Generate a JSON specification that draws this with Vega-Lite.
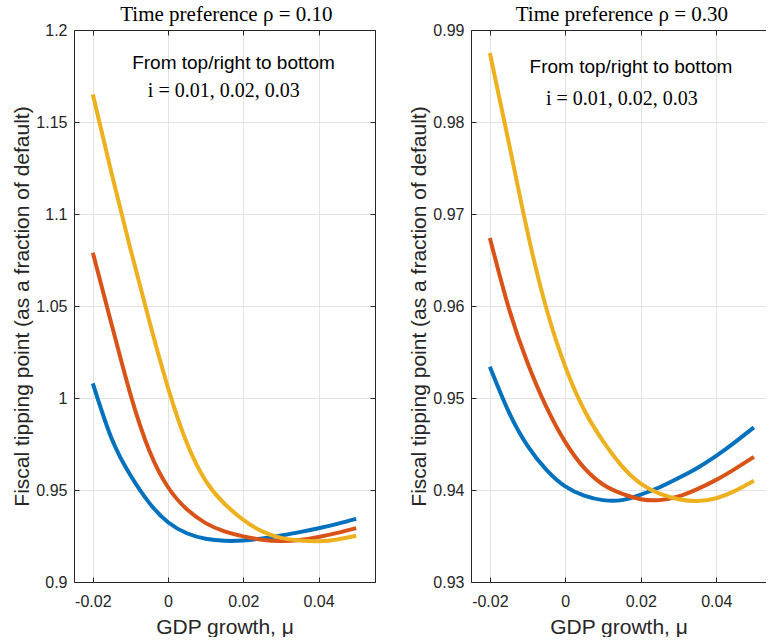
{
  "$schema": "https://vega.github.io/schema/vega-lite/v6.json",
  "background": "white",
  "padding": {"left": 11, "right": 0, "top": 3, "bottom": 0},
  "datasets": {
    "curves": [
      {"panel": "a", "i": "0.01", "mu": -0.02, "val": 1.008},
      {"panel": "a", "i": "0.01", "mu": -0.015, "val": 0.978},
      {"panel": "a", "i": "0.01", "mu": -0.01, "val": 0.958},
      {"panel": "a", "i": "0.01", "mu": -0.005, "val": 0.943},
      {"panel": "a", "i": "0.01", "mu": 0.0, "val": 0.9325},
      {"panel": "a", "i": "0.01", "mu": 0.005, "val": 0.9265},
      {"panel": "a", "i": "0.01", "mu": 0.01, "val": 0.9235},
      {"panel": "a", "i": "0.01", "mu": 0.015, "val": 0.9224},
      {"panel": "a", "i": "0.01", "mu": 0.02, "val": 0.9226},
      {"panel": "a", "i": "0.01", "mu": 0.025, "val": 0.9237},
      {"panel": "a", "i": "0.01", "mu": 0.03, "val": 0.9253},
      {"panel": "a", "i": "0.01", "mu": 0.035, "val": 0.9271},
      {"panel": "a", "i": "0.01", "mu": 0.04, "val": 0.9292},
      {"panel": "a", "i": "0.01", "mu": 0.045, "val": 0.9316},
      {"panel": "a", "i": "0.01", "mu": 0.05, "val": 0.9343},
      {"panel": "a", "i": "0.02", "mu": -0.02, "val": 1.079},
      {"panel": "a", "i": "0.02", "mu": -0.015, "val": 1.04},
      {"panel": "a", "i": "0.02", "mu": -0.01, "val": 1.002},
      {"panel": "a", "i": "0.02", "mu": -0.005, "val": 0.9715},
      {"panel": "a", "i": "0.02", "mu": 0.0, "val": 0.9515},
      {"panel": "a", "i": "0.02", "mu": 0.005, "val": 0.9395},
      {"panel": "a", "i": "0.02", "mu": 0.01, "val": 0.932},
      {"panel": "a", "i": "0.02", "mu": 0.015, "val": 0.9275},
      {"panel": "a", "i": "0.02", "mu": 0.02, "val": 0.9248},
      {"panel": "a", "i": "0.02", "mu": 0.025, "val": 0.923},
      {"panel": "a", "i": "0.02", "mu": 0.03, "val": 0.9223},
      {"panel": "a", "i": "0.02", "mu": 0.035, "val": 0.9228},
      {"panel": "a", "i": "0.02", "mu": 0.04, "val": 0.9245},
      {"panel": "a", "i": "0.02", "mu": 0.045, "val": 0.9267},
      {"panel": "a", "i": "0.02", "mu": 0.05, "val": 0.9293},
      {"panel": "a", "i": "0.03", "mu": -0.02, "val": 1.165},
      {"panel": "a", "i": "0.03", "mu": -0.015, "val": 1.122},
      {"panel": "a", "i": "0.03", "mu": -0.01, "val": 1.081},
      {"panel": "a", "i": "0.03", "mu": -0.005, "val": 1.042},
      {"panel": "a", "i": "0.03", "mu": 0.0, "val": 1.0055},
      {"panel": "a", "i": "0.03", "mu": 0.005, "val": 0.9755},
      {"panel": "a", "i": "0.03", "mu": 0.01, "val": 0.955},
      {"panel": "a", "i": "0.03", "mu": 0.015, "val": 0.9425},
      {"panel": "a", "i": "0.03", "mu": 0.02, "val": 0.9338},
      {"panel": "a", "i": "0.03", "mu": 0.025, "val": 0.9275},
      {"panel": "a", "i": "0.03", "mu": 0.03, "val": 0.924},
      {"panel": "a", "i": "0.03", "mu": 0.035, "val": 0.9226},
      {"panel": "a", "i": "0.03", "mu": 0.04, "val": 0.9222},
      {"panel": "a", "i": "0.03", "mu": 0.045, "val": 0.9231},
      {"panel": "a", "i": "0.03", "mu": 0.05, "val": 0.9251},
      {"panel": "b", "i": "0.01", "mu": -0.02, "val": 0.9534},
      {"panel": "b", "i": "0.01", "mu": -0.015, "val": 0.9485},
      {"panel": "b", "i": "0.01", "mu": -0.01, "val": 0.9448},
      {"panel": "b", "i": "0.01", "mu": -0.005, "val": 0.9422},
      {"panel": "b", "i": "0.01", "mu": 0.0, "val": 0.9404},
      {"panel": "b", "i": "0.01", "mu": 0.005, "val": 0.9394},
      {"panel": "b", "i": "0.01", "mu": 0.01, "val": 0.9389},
      {"panel": "b", "i": "0.01", "mu": 0.015, "val": 0.9389},
      {"panel": "b", "i": "0.01", "mu": 0.02, "val": 0.9395},
      {"panel": "b", "i": "0.01", "mu": 0.025, "val": 0.9403},
      {"panel": "b", "i": "0.01", "mu": 0.03, "val": 0.9413},
      {"panel": "b", "i": "0.01", "mu": 0.035, "val": 0.9424},
      {"panel": "b", "i": "0.01", "mu": 0.04, "val": 0.9437},
      {"panel": "b", "i": "0.01", "mu": 0.045, "val": 0.9452},
      {"panel": "b", "i": "0.01", "mu": 0.05, "val": 0.9468},
      {"panel": "b", "i": "0.02", "mu": -0.02, "val": 0.9674},
      {"panel": "b", "i": "0.02", "mu": -0.015, "val": 0.9598},
      {"panel": "b", "i": "0.02", "mu": -0.01, "val": 0.9538},
      {"panel": "b", "i": "0.02", "mu": -0.005, "val": 0.949},
      {"panel": "b", "i": "0.02", "mu": 0.0, "val": 0.9452},
      {"panel": "b", "i": "0.02", "mu": 0.005, "val": 0.9424},
      {"panel": "b", "i": "0.02", "mu": 0.01, "val": 0.9406},
      {"panel": "b", "i": "0.02", "mu": 0.015, "val": 0.9396},
      {"panel": "b", "i": "0.02", "mu": 0.02, "val": 0.939},
      {"panel": "b", "i": "0.02", "mu": 0.025, "val": 0.9389},
      {"panel": "b", "i": "0.02", "mu": 0.03, "val": 0.9393},
      {"panel": "b", "i": "0.02", "mu": 0.035, "val": 0.9401},
      {"panel": "b", "i": "0.02", "mu": 0.04, "val": 0.9411},
      {"panel": "b", "i": "0.02", "mu": 0.045, "val": 0.9423},
      {"panel": "b", "i": "0.02", "mu": 0.05, "val": 0.9436},
      {"panel": "b", "i": "0.03", "mu": -0.02, "val": 0.9875},
      {"panel": "b", "i": "0.03", "mu": -0.015, "val": 0.9778},
      {"panel": "b", "i": "0.03", "mu": -0.01, "val": 0.968},
      {"panel": "b", "i": "0.03", "mu": -0.005, "val": 0.9597},
      {"panel": "b", "i": "0.03", "mu": 0.0, "val": 0.9534},
      {"panel": "b", "i": "0.03", "mu": 0.005, "val": 0.9487},
      {"panel": "b", "i": "0.03", "mu": 0.01, "val": 0.9453},
      {"panel": "b", "i": "0.03", "mu": 0.015, "val": 0.9426},
      {"panel": "b", "i": "0.03", "mu": 0.02, "val": 0.9407},
      {"panel": "b", "i": "0.03", "mu": 0.025, "val": 0.9396},
      {"panel": "b", "i": "0.03", "mu": 0.03, "val": 0.939},
      {"panel": "b", "i": "0.03", "mu": 0.035, "val": 0.9388},
      {"panel": "b", "i": "0.03", "mu": 0.04, "val": 0.9391},
      {"panel": "b", "i": "0.03", "mu": 0.045, "val": 0.9399},
      {"panel": "b", "i": "0.03", "mu": 0.05, "val": 0.941}
    ],
    "notes": [
      {"panel": "a", "kind": "title", "mu": 0.0155, "val": 1.2049, "text": "Time preference ρ = 0.10"},
      {"panel": "a", "kind": "note", "mu": 0.0174, "val": 1.1786, "text": "From top/right to bottom"},
      {"panel": "a", "kind": "leg", "mu": 0.0148, "val": 1.1636, "text": "i = 0.01, 0.02, 0.03"},
      {"panel": "b", "kind": "title", "mu": 0.0150, "val": 0.99098, "text": "Time preference ρ = 0.30"},
      {"panel": "b", "kind": "note", "mu": 0.0174, "val": 0.9853, "text": "From top/right to bottom"},
      {"panel": "b", "kind": "leg", "mu": 0.0150, "val": 0.9819, "text": "i = 0.01, 0.02, 0.03"}
    ]
  },
  "spacing": 96,
  "bounds": "flush",
  "hconcat": [
    {
      "width": 301,
      "height": 552,
      "resolve": {"axis": {"x": "independent", "y": "independent"}},
      "layer": [
        {
          "data": {"name": "curves"},
          "transform": [{"filter": "datum.panel == 'a'"}],
          "mark": {"type": "line", "strokeWidth": 4, "interpolate": "natural"},
          "encoding": {
            "x": {"field": "mu", "type": "quantitative",
              "scale": {"domain": [-0.025, 0.055], "nice": false, "zero": false},
              "axis": {"orient": "bottom", "values": [-0.02, 0, 0.02, 0.04], "format": "~g",
                "labelExpr": "replace(datum.label, '−', '-')", "title": "GDP growth, μ", "grid": true}},
            "y": {"field": "val", "type": "quantitative",
              "scale": {"domain": [0.9, 1.2], "nice": false, "zero": false},
              "axis": {"orient": "left", "values": [0.9, 0.95, 1, 1.05, 1.1, 1.15, 1.2], "format": "~g",
                "title": "Fiscal tipping point (as a fraction of default)", "grid": true}},
            "color": {"field": "i", "type": "nominal",
              "scale": {"domain": ["0.01", "0.02", "0.03"], "range": ["#0072BD", "#D95319", "#EDB120"]},
              "legend": null}
          }
        },
        {
          "data": {"name": "curves"},
          "transform": [{"filter": "datum.panel == 'a'"}],
          "mark": {"type": "point", "opacity": 0},
          "encoding": {
            "x": {"field": "mu", "type": "quantitative",
              "axis": {"orient": "top", "values": [-0.02, 0, 0.02, 0.04], "labels": false, "title": null, "grid": false}},
            "y": {"field": "val", "type": "quantitative",
              "axis": {"orient": "right", "values": [0.9, 0.95, 1, 1.05, 1.1, 1.15, 1.2], "labels": false, "title": null, "grid": false}}
          }
        },
        {
          "data": {"name": "notes"},
          "transform": [{"filter": "datum.panel == 'a' && datum.kind == 'title'"}],
          "mark": {"type": "text", "font": "Liberation Serif", "fontSize": 21, "fontWeight": "normal", "align": "center", "baseline": "alphabetic", "color": "#000000"},
          "encoding": {
            "x": {"field": "mu", "type": "quantitative", "axis": null},
            "y": {"field": "val", "type": "quantitative", "axis": null},
            "text": {"field": "text"}
          }
        },
        {
          "data": {"name": "notes"},
          "transform": [{"filter": "datum.panel == 'a' && datum.kind == 'note'"}],
          "mark": {"type": "text", "font": "Liberation Sans", "fontSize": 19, "align": "center", "baseline": "alphabetic", "color": "#000000"},
          "encoding": {
            "x": {"field": "mu", "type": "quantitative", "axis": null},
            "y": {"field": "val", "type": "quantitative", "axis": null},
            "text": {"field": "text"}
          }
        },
        {
          "data": {"name": "notes"},
          "transform": [{"filter": "datum.panel == 'a' && datum.kind == 'leg'"}],
          "mark": {"type": "text", "font": "Liberation Serif", "fontSize": 20, "align": "center", "baseline": "alphabetic", "color": "#000000"},
          "encoding": {
            "x": {"field": "mu", "type": "quantitative", "axis": null},
            "y": {"field": "val", "type": "quantitative", "axis": null},
            "text": {"field": "text"}
          }
        }
      ]
    },
    {
      "width": 295,
      "height": 552,
      "resolve": {"axis": {"x": "independent", "y": "independent"}},
      "layer": [
        {
          "data": {"name": "curves"},
          "transform": [{"filter": "datum.panel == 'b'"}],
          "mark": {"type": "line", "strokeWidth": 4, "interpolate": "natural"},
          "encoding": {
            "x": {"field": "mu", "type": "quantitative",
              "scale": {"domain": [-0.025, 0.0532], "nice": false, "zero": false},
              "axis": {"orient": "bottom", "values": [-0.02, 0, 0.02, 0.04], "format": "~g",
                "labelExpr": "replace(datum.label, '−', '-')", "title": "GDP growth, μ", "grid": true}},
            "y": {"field": "val", "type": "quantitative",
              "scale": {"domain": [0.93, 0.99], "nice": false, "zero": false},
              "axis": {"orient": "left", "values": [0.93, 0.94, 0.95, 0.96, 0.97, 0.98, 0.99], "format": "~g",
                "title": "Fiscal tipping point (as a fraction of default)", "grid": true}},
            "color": {"field": "i", "type": "nominal",
              "scale": {"domain": ["0.01", "0.02", "0.03"], "range": ["#0072BD", "#D95319", "#EDB120"]},
              "legend": null}
          }
        },
        {
          "data": {"name": "curves"},
          "transform": [{"filter": "datum.panel == 'b'"}],
          "mark": {"type": "point", "opacity": 0},
          "encoding": {
            "x": {"field": "mu", "type": "quantitative",
              "axis": {"orient": "top", "values": [-0.02, 0, 0.02, 0.04], "labels": false, "title": null, "grid": false}},
            "y": {"field": "val", "type": "quantitative", "axis": null}
          }
        },
        {
          "data": {"name": "notes"},
          "transform": [{"filter": "datum.panel == 'b' && datum.kind == 'title'"}],
          "mark": {"type": "text", "font": "Liberation Serif", "fontSize": 21, "fontWeight": "normal", "align": "center", "baseline": "alphabetic", "color": "#000000"},
          "encoding": {
            "x": {"field": "mu", "type": "quantitative", "axis": null},
            "y": {"field": "val", "type": "quantitative", "axis": null},
            "text": {"field": "text"}
          }
        },
        {
          "data": {"name": "notes"},
          "transform": [{"filter": "datum.panel == 'b' && datum.kind == 'note'"}],
          "mark": {"type": "text", "font": "Liberation Sans", "fontSize": 19, "align": "center", "baseline": "alphabetic", "color": "#000000"},
          "encoding": {
            "x": {"field": "mu", "type": "quantitative", "axis": null},
            "y": {"field": "val", "type": "quantitative", "axis": null},
            "text": {"field": "text"}
          }
        },
        {
          "data": {"name": "notes"},
          "transform": [{"filter": "datum.panel == 'b' && datum.kind == 'leg'"}],
          "mark": {"type": "text", "font": "Liberation Serif", "fontSize": 20, "align": "center", "baseline": "alphabetic", "color": "#000000"},
          "encoding": {
            "x": {"field": "mu", "type": "quantitative", "axis": null},
            "y": {"field": "val", "type": "quantitative", "axis": null},
            "text": {"field": "text"}
          }
        }
      ]
    }
  ],
  "config": {
    "view": {"stroke": null},
    "axis": {
      "domainColor": "#262626",
      "domainWidth": 1,
      "tickColor": "#262626",
      "tickSize": -5,
      "tickWidth": 1,
      "labelColor": "#262626",
      "labelFont": "Liberation Sans",
      "labelFontSize": 16,
      "titleColor": "#262626",
      "titleFont": "Liberation Sans",
      "titleFontSize": 21,
      "titleFontWeight": "normal",
      "gridColor": "#e3e3e3",
      "gridWidth": 1,
      "labelFlush": false,
      "labelOverlap": false
    },
    "axisX": {"labelPadding": 16, "titlePadding": 7},
    "axisY": {"labelPadding": 12, "titlePadding": 3}
  }
}
